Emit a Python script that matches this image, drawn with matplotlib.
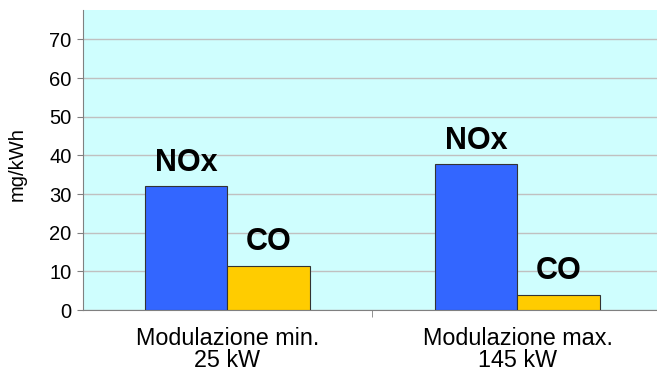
import numpy as np
import matplotlib.pyplot as plt
from matplotlib.ticker import FixedLocator

plt.rcParams['font.family'] = ['Liberation Sans', 'DejaVu Sans']

# dati
categorie = ['Modulazione min.\n25 kW', 'Modulazione max.\n145 kW']
nox = [32, 37.8]
co = [11.5, 4]
serie = ['NOx', 'CO']

fig = plt.figure(figsize=(6.57, 3.74), dpi=100)
ax = fig.add_axes([82.5/657, 64/374, 580/657, 300/374])
ax.set_facecolor('#CFFEFE')

x = np.arange(len(categorie))
w = 0.284
b1 = ax.bar(x - w/2, nox, w, color='#3366FF', edgecolor='#333333', linewidth=0.8, zorder=3)
b2 = ax.bar(x + w/2, co, w, color='#FFCC00', edgecolor='#333333', linewidth=0.8, zorder=3)

for bars, nome in zip([b1, b2], serie):
    for r in bars:
        ax.annotate(nome, (r.get_x() + r.get_width()/2, r.get_height()),
                    xytext=(0, 11), textcoords='offset points',
                    ha='center', va='baseline', fontsize=22, fontweight='bold')

ax.set_xlim(-0.5, 1.5)
ax.set_ylim(0, 77.6)
ax.set_yticks(np.arange(0, 71, 10))
ax.yaxis.grid(True, color='#C0C0C0', linewidth=1, zorder=0)
ax.set_axisbelow(True)

ax.set_xticks(x)
ax.set_xticklabels(categorie, fontsize=16.8, linespacing=0.98)
ax.xaxis.set_minor_locator(FixedLocator([0.5]))
ax.tick_params(axis='x', which='major', length=0, pad=12)
ax.tick_params(axis='x', which='minor', length=5, color='#808080')
ax.tick_params(axis='y', length=4, color='#808080', labelsize=14.5, pad=4)

for s in ['top', 'right']:
    ax.spines[s].set_visible(False)
for s in ['left', 'bottom']:
    ax.spines[s].set_color('#808080')

fig.text(17/657, 1 - 164/374, 'mg/kWh', rotation=90, ha='center', va='center', fontsize=14.5)

fig.savefig('out.png', dpi=100)
